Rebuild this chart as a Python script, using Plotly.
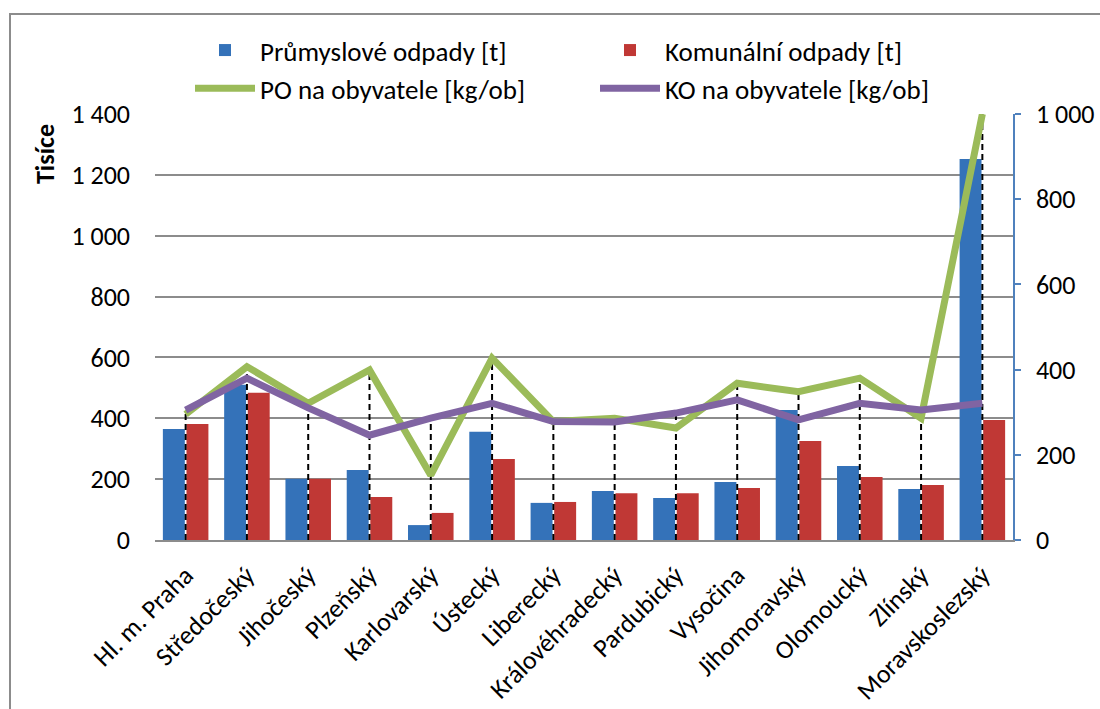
import plotly.graph_objects as go

categories = ["Hl. m. Praha", "Středočeský", "Jihočeský", "Plzeňský", "Karlovarský",
              "Ústecký", "Liberecký", "Královéhradecký", "Pardubický", "Vysočina",
              "Jihomoravský", "Olomoucký", "Zlínský", "Moravskoslezský"]
prumyslove = [365, 510, 201, 230, 49, 356, 122, 161, 138, 191, 427, 243, 168, 1252]
komunalni = [381, 484, 201, 141, 89, 266, 125, 154, 154, 171, 325, 207, 181, 394]
po_obyv = [295, 407, 321, 399, 152, 427, 278, 286, 263, 368, 348, 380, 286, 1000]
ko_obyv = [305, 380, 310, 246, 286, 321, 278, 277, 298, 329, 282, 321, 305, 321]

left_ticks = [0, 200, 400, 600, 800, 1000, 1200, 1400]
right_ticks = [0, 200, 400, 600, 800, 1000]

FONT = "Carlito, Lato, Liberation Sans, sans-serif"
FS = 26

fig = go.Figure()
fig.add_trace(go.Bar(x=categories, y=prumyslove, name="Průmyslové odpady [t]",
                     marker=dict(color="#3472b9", line=dict(width=0)), yaxis="y"))
fig.add_trace(go.Bar(x=categories, y=komunalni, name="Komunální odpady [t]",
                     marker=dict(color="#c03835", line=dict(width=0)), yaxis="y"))

# drop lines
dx, dy = [], []
for c, a, b in zip(categories, po_obyv, ko_obyv):
    dx += [c, c, None]
    dy += [0, max(a, b), None]
fig.add_trace(go.Scatter(x=dx, y=dy, mode="lines", yaxis="y2", showlegend=False,
                         line=dict(color="black", width=2, dash="6px,4px"), hoverinfo="skip"))

fig.add_trace(go.Scatter(x=categories, y=po_obyv, name="PO na obyvatele [kg/ob]", mode="lines",
                         yaxis="y2", line=dict(color="#9bbb59", width=7)))
fig.add_trace(go.Scatter(x=categories, y=ko_obyv, name="KO na obyvatele [kg/ob]", mode="lines",
                         yaxis="y2", line=dict(color="#8064a2", width=7)))

L, R, T, B = 155, 87, 114, 169
W, H = 1100, 709
pw, ph = W - L - R, H - T - B

def px(x):
    return (x - L) / pw

def py(y):
    return (H - B - y) / ph

fig.update_layout(
    width=W, height=H,
    margin=dict(l=L, r=R, t=T, b=B, autoexpand=False),
    paper_bgcolor="white", plot_bgcolor="white",
    font=dict(family=FONT, size=FS, color="black"),
    separators=", ",
    barmode="group", bargap=0.23, bargroupgap=0.07,
    showlegend=True,
    legend=dict(orientation="h", x=px(190), xanchor="left", y=py(26), yanchor="top",
                entrywidth=330, entrywidthmode="pixels", font=dict(size=27),
                bgcolor="rgba(0,0,0,0)", tracegroupgap=0, itemwidth=60),
    xaxis=dict(tickangle=-45, showgrid=False, showline=True, linecolor="#8c8c8c", linewidth=1.5,
               ticks="", tickfont=dict(size=FS), ticklabelstandoff=8, automargin=False),
    yaxis=dict(range=[0, 1400], tickvals=left_ticks, tickformat=",d", showgrid=True,
               gridcolor="#8c8c8c", gridwidth=1.5, showline=False, zeroline=False, ticks="",
               ticklabelstandoff=24, tickfont=dict(size=FS), automargin=False),
    yaxis2=dict(range=[0, 1000], tickvals=right_ticks, tickformat=",d", overlaying="y", side="right",
                showgrid=False, zeroline=False, showline=True, linecolor="#4f81bd", linewidth=1.5,
                ticks="outside", ticklen=6, tickcolor="#4f81bd", tickwidth=1.5,
                ticklabelstandoff=10, tickfont=dict(size=FS), automargin=False),
    annotations=[dict(text="<b>Tisíce</b>", textangle=-90, xref="paper", yref="paper",
                      x=px(45), y=py(154), xanchor="center", yanchor="middle",
                      showarrow=False, font=dict(size=FS))],
    shapes=[dict(type="rect", xref="paper", yref="paper", x0=px(10), y0=py(712), x1=px(1103), y1=py(14),
                 line=dict(color="#8c8c8c", width=2), fillcolor="rgba(0,0,0,0)", layer="below")],
)

fig.write_html("out.html")
